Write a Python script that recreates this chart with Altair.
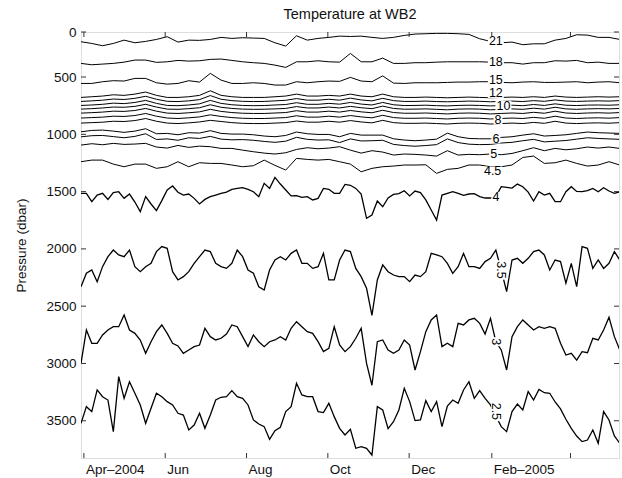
import altair as alt
import pandas as pd

# ---------------- time grids ----------------
START = "2004-03-29 20:00"
DEEP_STEP_HOURS = 97     # sampling step of the deep isotherms
UPPER_STEP_HOURS = 194   # sampling step of the upper isotherms

# ---------------- isotherm depths (dbar) ----------------
# upper isotherms (51 samples each)
p21 = [192, 207, 227, 207, 178, 201, 189, 172, 148, 195,
       178, 180, 172, 154, 163, 157, 160, 163, 201, 230,
       140, 178, 163, 154, 143, 146, 143, 154, 163, 154,
       137, 125, 122, 119, 119, 122, 128, 166, 189, 201,
       195, 218, 210, 210, 178, 163, 131, 134, 154, 154,
       172]
p18 = [381, 393, 387, 381, 370, 352, 352, 372, 367, 355,
       361, 358, 346, 343, 355, 367, 375, 381, 396, 416,
       367, 367, 358, 367, 370, 294, 367, 367, 335, 381,
       381, 375, 375, 370, 367, 367, 367, 367, 370, 375,
       375, 387, 375, 375, 358, 361, 355, 375, 370, 381,
       381]
p15 = [556, 556, 541, 532, 535, 512, 512, 550, 562, 556,
       532, 544, 468, 527, 556, 556, 550, 556, 570, 570,
       541, 550, 541, 535, 538, 503, 535, 541, 490, 553,
       556, 550, 550, 550, 547, 544, 544, 541, 541, 547,
       550, 544, 541, 547, 547, 544, 541, 550, 544, 541,
       550]
p12 = [678, 672, 666, 655, 660, 649, 631, 660, 678, 678,
       672, 660, 620, 660, 672, 678, 678, 678, 672, 666,
       649, 666, 666, 660, 666, 649, 666, 672, 649, 672,
       678, 678, 675, 678, 681, 678, 675, 678, 681, 678,
       675, 678, 672, 678, 666, 675, 678, 675, 672, 675,
       672]
p11 = [713, 708, 702, 692, 696, 686, 668, 694, 712, 714,
       708, 697, 662, 694, 706, 712, 714, 713, 708, 703,
       688, 702, 702, 694, 702, 684, 700, 708, 686, 706,
       713, 713, 710, 714, 716, 713, 710, 712, 716, 713,
       710, 714, 706, 712, 700, 710, 713, 710, 708, 710,
       706]
p10 = [748, 744, 738, 728, 732, 722, 704, 730, 748, 750,
       744, 734, 704, 730, 742, 748, 750, 749, 744, 740,
       724, 738, 738, 730, 737, 722, 736, 744, 722, 742,
       749, 748, 746, 750, 752, 748, 746, 748, 752, 749,
       746, 750, 740, 748, 734, 746, 749, 745, 744, 746,
       742]
p9 = [780, 776, 770, 762, 764, 756, 738, 762, 780, 782,
      776, 768, 742, 764, 774, 780, 782, 781, 778, 774,
      758, 770, 770, 762, 770, 756, 768, 776, 754, 774,
      781, 780, 778, 782, 786, 780, 778, 780, 786, 782,
      778, 782, 772, 780, 764, 778, 782, 778, 776, 778,
      774]
p8 = [815, 811, 806, 798, 800, 792, 774, 798, 815, 818,
      812, 804, 782, 800, 810, 816, 818, 818, 814, 810,
      794, 806, 806, 798, 806, 792, 804, 812, 790, 810,
      816, 816, 814, 818, 822, 816, 814, 816, 822, 818,
      814, 818, 808, 816, 798, 814, 818, 814, 812, 815,
      810]
p7 = [858, 854, 850, 842, 844, 836, 818, 842, 858, 862,
      856, 848, 830, 844, 854, 860, 862, 862, 858, 854,
      838, 850, 850, 842, 850, 836, 848, 856, 834, 854,
      860, 860, 858, 862, 866, 860, 858, 860, 866, 862,
      858, 862, 852, 860, 842, 858, 862, 858, 856, 859,
      854]
p6_5 = [902, 898, 894, 886, 888, 880, 862, 886, 902, 906,
        900, 892, 878, 888, 898, 904, 906, 906, 902, 898,
        884, 894, 894, 886, 894, 880, 892, 900, 878, 898,
        904, 904, 902, 906, 910, 904, 902, 904, 910, 906,
        902, 906, 896, 904, 886, 902, 906, 902, 900, 903,
        898]
p6 = [978, 966, 963, 972, 983, 972, 951, 995, 992, 1004,
      986, 989, 968, 992, 998, 998, 1004, 1015, 1021, 1010,
      980, 995, 1001, 1001, 1021, 992, 1007, 1007, 1007, 1039,
      1050, 1056, 1050, 1042, 990, 1021, 1036, 1039, 1039, 1027,
      1021, 1007, 995, 1015, 1010, 1004, 992, 980, 986, 989,
      992]
p5_5 = [1022, 1012, 1010, 1020, 1030, 1018, 995, 1045, 1040, 1052,
        1030, 1036, 1018, 1042, 1048, 1046, 1052, 1062, 1070, 1060,
        1026, 1044, 1050, 1048, 1072, 1040, 1058, 1056, 1052, 1088,
        1098, 1104, 1098, 1090, 1040, 1072, 1086, 1090, 1088, 1076,
        1070, 1056, 1044, 1066, 1060, 1054, 1042, 1030, 1036, 1040,
        1044]
p5 = [1094, 1082, 1091, 1079, 1088, 1085, 1079, 1111, 1120, 1097,
      1114, 1103, 1108, 1123, 1123, 1138, 1152, 1164, 1172, 1161,
      1132, 1117, 1126, 1120, 1108, 1138, 1164, 1143, 1155, 1181,
      1172, 1175, 1181, 1190, 1143, 1181, 1175, 1178, 1172, 1178,
      1167, 1143, 1117, 1143, 1123, 1135, 1126, 1111, 1120, 1111,
      1123]
p4_5 = [1239, 1225, 1225, 1260, 1283, 1260, 1260, 1297, 1283, 1239,
        1283, 1248, 1254, 1254, 1268, 1283, 1274, 1225, 1271, 1312,
        1210, 1219, 1225, 1219, 1239, 1260, 1327, 1297, 1283, 1277,
        1268, 1268, 1266, 1341, 1306, 1297, 1268, 1268, 1283, 1283,
        1268, 1202, 1190, 1254, 1248, 1225, 1254, 1277, 1268, 1239,
        1268]

# deep isotherms (101 samples each)
p4 = [1515, 1515, 1588, 1530, 1515, 1568, 1509, 1501, 1559, 1521,
      1591, 1675, 1544, 1608, 1666, 1579, 1486, 1451, 1506, 1530,
      1521, 1559, 1608, 1568, 1544, 1530, 1515, 1504, 1480, 1472,
      1466, 1480, 1501, 1544, 1428, 1472, 1376, 1434, 1486, 1538,
      1536, 1550, 1544, 1573, 1559, 1472, 1480, 1515, 1515, 1437,
      1445, 1472, 1521, 1733, 1704, 1582, 1632, 1556, 1524, 1518,
      1492, 1538, 1495, 1509, 1573, 1661, 1748, 1530, 1515, 1501,
      1515, 1533, 1521, 1518, 1544, 1556, 1556, 1544, 1457, 1463,
      1469, 1434, 1457, 1504, 1582, 1501, 1530, 1515, 1588, 1588,
      1501, 1457, 1498, 1501, 1492, 1472, 1501, 1466, 1495, 1515,
      1501]
p3_5 = [2330, 2213, 2184, 2286, 2155, 2068, 2010, 2053, 2068, 2010,
        2155, 2199, 2155, 2126, 2024, 1980, 1995, 2199, 2271, 2242,
        2199, 2126, 2068, 2010, 2024, 2126, 2155, 2170, 2126, 2010,
        2068, 2184, 2213, 2330, 2359, 2184, 2097, 2068, 2097, 2039,
        2010, 2126, 2126, 2170, 2155, 2039, 2271, 2271, 2097, 2010,
        2024, 2170, 2242, 2344, 2580, 2271, 2140, 2199, 2228, 2242,
        2242, 2286, 2228, 2242, 2199, 2039, 2053, 2068, 2126, 2213,
        2155, 2039, 2155, 2155, 2170, 2111, 2082, 2010, 2184, 2373,
        2097, 2082, 2126, 2082, 2024, 2010, 2053, 2184, 2097, 2111,
        2300, 2126, 2330, 1980, 1995, 2170, 2097, 2170, 2126, 2024,
        2097]
p3 = [2999, 2708, 2824, 2824, 2751, 2708, 2679, 2679, 2577, 2708,
      2737, 2795, 2911, 2810, 2722, 2664, 2737, 2824, 2847, 2911,
      2882, 2853, 2839, 2693, 2766, 2795, 2780, 2743, 2664, 2679,
      2766, 2853, 2751, 2810, 2853, 2810, 2795, 2766, 2795, 2693,
      2635, 2679, 2722, 2737, 2810, 2897, 2868, 2679, 2839, 2897,
      2853, 2780, 2693, 2999, 3190, 2810, 2795, 2882, 2911, 2882,
      2795, 2839, 3057, 2897, 2722, 2620, 2577, 2853, 2824, 2853,
      2650, 2664, 2620, 2606, 2650, 2743, 2606, 2810, 2882, 3057,
      2766, 2679, 2620, 2664, 2708, 2679, 2693, 2679, 2693, 2824,
      2926, 2911, 2970, 2897, 2906, 2780, 2795, 2708, 2597, 2766,
      2882]
p2_5 = [3522, 3377, 3420, 3231, 3290, 3319, 3595, 3115, 3304, 3159,
        3260, 3362, 3522, 3391, 3260, 3290, 3333, 3362, 3435, 3450,
        3580, 3537, 3435, 3566, 3450, 3319, 3295, 3290, 3237, 3290,
        3304, 3362, 3493, 3528, 3551, 3662, 3586, 3557, 3420, 3377,
        3173, 3275, 3290, 3290, 3420, 3429, 3348, 3464, 3566, 3624,
        3575, 3740, 3726, 3740, 3799, 3377, 3406, 3569, 3508, 3406,
        3217, 3333, 3499, 3493, 3324, 3420, 3333, 3551, 3371, 3319,
        3348, 3231, 3159, 3304, 3237, 3304, 3362, 3458, 3551, 3595,
        3420, 3354, 3406, 3246, 3319, 3226, 3255, 3260, 3336, 3397,
        3487, 3566, 3633, 3682, 3668, 3580, 3697, 3420, 3493, 3633,
        3697]

upper_levels = ["21", "18", "15", "12", "11", "10", "9", "8", "7", "6.5",
                "6", "5.5", "5", "4.5"]
upper_series = [p21, p18, p15, p12, p11, p10, p9, p8, p7, p6_5,
                p6, p5_5, p5, p4_5]
deep_levels = ["4", "3.5", "3", "2.5"]
deep_series = [p4, p3_5, p3, p2_5]

# contour labels: level, sample position on its grid, vertical nudge (dbar), rotation
label_levels = ["21", "18", "15", "12", "10", "8", "6", "5", "4.5",
                "4", "3.5", "3", "2.5"]
label_pos = [38.5, 38.5, 38.5, 38.5, 39.2, 38.7, 38.5, 38.3, 38.2,
             77, 78, 77, 77]
label_nudge = [0, 0, -15, -40, 0, 55, 0, 0, 40, 0, 0, 0, -40]
label_angle = [0, 0, 0, 0, 0, 0, 0, 0, 0, 0, 90, 90, 90]

# axes
Y_TOP, Y_BOTTOM = 107, 3825
y_tick_values = [107, 500, 1000, 1500, 2000, 2500, 3000, 3500]
y_tick_labels = ["0", "500", "1000", "1500", "2000", "2500", "3000", "3500"]
x_tick_keys = ["2004-04", "2004-06", "2004-08", "2004-10", "2004-12", "2005-02", "2005-04"]
x_tick_labels = ["Apr\u20132004", "Jun", "Aug", "Oct", "Dec", "Feb\u20132005", ""]

# ---------------- build tables ----------------
t0 = pd.Timestamp(START)


def stamp(i, step):
    return (t0 + pd.Timedelta(hours=step * i)).strftime("%Y-%m-%dT%H:%M:%S")


rows = []
for lev, vals in zip(upper_levels, upper_series):
    for i, v in enumerate(vals):
        rows.append({"date": stamp(i, UPPER_STEP_HOURS), "p": v, "level": lev, "w": 1.0})
for lev, vals in zip(deep_levels, deep_series):
    for i, v in enumerate(vals):
        rows.append({"date": stamp(i, DEEP_STEP_HOURS), "p": v, "level": lev, "w": 1.3})
df = pd.DataFrame(rows)

LABEL_SIZE = 12.5


def box_path(text):
    # white gap behind a contour label (pixel size from the text length)
    w = 7.0 * sum(0.5 if c == "." else 1 for c in text) + 2
    h = 9.5
    m = max(w, h)
    return (f"M{-w / m:.3f},{-h / m:.3f}H{w / m:.3f}V{h / m:.3f}H{-w / m:.3f}Z", (m) ** 2)


series_map = dict(zip(upper_levels + deep_levels, upper_series + deep_series))
lab_rows = []
for lev, pos, nud, ang in zip(label_levels, label_pos, label_nudge, label_angle):
    step = UPPER_STEP_HOURS if lev in upper_levels else DEEP_STEP_HOURS
    vals = series_map[lev]
    path, size = box_path(lev)
    lab_rows.append({"date": stamp(pos, step), "p": vals[int(round(pos))] + nud,
                     "text": lev, "angle": ang, "shape": path, "size": size})
labels_df = pd.DataFrame(lab_rows)

xt = pd.DataFrame({"date": [k + "-01T00:00:00" for k in x_tick_keys]})
yt = pd.DataFrame({"p": y_tick_values})

W, H = 538, 426
FONT = "Liberation Sans"

x_domain = [alt.DateTime(year=2004, month=3, date=29, hours=20),
            alt.DateTime(year=2005, month=5, date=7, hours=10)]
x_scale = alt.Scale(domain=x_domain)
y_scale = alt.Scale(domain=[Y_TOP, Y_BOTTOM], reverse=True, nice=False, zero=False)

x_expr = ""
for k, lab in zip(x_tick_keys, x_tick_labels):
    x_expr += f"timeFormat(datum.value, '%Y-%m') == '{k}' ? '{lab}' : "
x_expr += "''"
y_expr = ""
for v, lab in zip(y_tick_values, y_tick_labels):
    y_expr += f"datum.value == {v} ? '{lab}' : "
y_expr += "datum.label"

x_axis = alt.Axis(
    values=[alt.DateTime(year=int(k[:4]), month=int(k[5:]), date=1) for k in x_tick_keys],
    labelExpr=x_expr, labelAlign="left", labelOffset=1.5, labelPadding=4,
    ticks=False, tickSize=0, domain=False, grid=False, title=None,
    labelFont=FONT, labelFontSize=13.5, labelColor="#111", labelAngle=0,
    labelFlush=False, labelOverlap=False, labelBaseline="top")
y_axis = alt.Axis(
    values=y_tick_values, labelExpr=y_expr, format="d",
    ticks=False, tickSize=0, domain=False, grid=False,
    title="Pressure (dbar)", titleFont=FONT, titleFontSize=13.5,
    titleFontWeight="normal", titleColor="#111", titleAngle=270,
    titleX=-60, titleY=H / 2, titleAlign="center", titleBaseline="middle",
    labelFont=FONT, labelFontSize=13.5, labelColor="#111", labelPadding=5,
    labelOverlap=False, labelFlush=False)

X = alt.X("date:T", scale=x_scale, axis=x_axis)
Y = alt.Y("p:Q", scale=y_scale, axis=y_axis)

lines = alt.Chart(df).mark_line(color="black", clip=True).encode(
    x=X, y=Y,
    detail="level:N",
    strokeWidth=alt.StrokeWidth("w:Q", scale=None),
)

gaps = alt.Chart(labels_df).mark_point(
    filled=True, color="white", opacity=1, strokeWidth=0).encode(
    x=X, y=Y,
    shape=alt.Shape("shape:N", scale=None),
    size=alt.Size("size:Q", scale=None),
    angle=alt.Angle("angle:Q", scale=None))
texts = alt.Chart(labels_df).mark_text(
    font=FONT, fontSize=LABEL_SIZE, color="black", align="center", baseline="middle").encode(
    x=X, y=Y, text="text:N", angle=alt.Angle("angle:Q", scale=None))

TICK = 5
y_left = alt.Chart(yt).mark_rule(color="#333").encode(
    y=Y, x=alt.value(0), x2=alt.value(TICK))
y_right = alt.Chart(yt).mark_rule(color="#333").encode(
    y=Y, x=alt.value(W - TICK), x2=alt.value(W))
x_bottom = alt.Chart(xt).mark_rule(color="#333").encode(
    x=X, y=alt.value(H), y2=alt.value(H - TICK))
x_top = alt.Chart(xt).mark_rule(color="#333").encode(
    x=X, y=alt.value(0), y2=alt.value(TICK))

chart = alt.layer(lines, gaps, texts, y_left, y_right, x_bottom, x_top).properties(
    width=W, height=H,
    title=alt.TitleParams("Temperature at WB2", font=FONT, fontSize=14.5,
                          fontWeight="normal", color="#111", anchor="middle", offset=3),
    autosize=alt.AutoSizeParams(type="none"),
    padding={"left": 81, "top": 32, "right": 3, "bottom": 20},
).configure_view(stroke="#333", strokeWidth=1).configure(background="white")

chart.save("out.html", embed_options={"renderer": "svg", "actions": False})
